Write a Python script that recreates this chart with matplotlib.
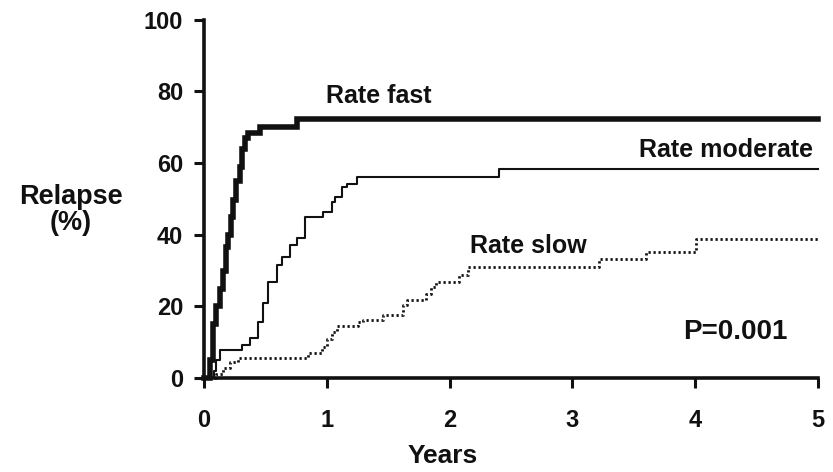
import numpy as np
import matplotlib
matplotlib.use("Agg")
from matplotlib import pyplot as plt

plt.rcParams['font.family'] = ['Liberation Sans', 'DejaVu Sans']
plt.rcParams['font.weight'] = 'bold'

# step curves (years, relapse %)
fast_t = [0, 0.05, 0.076, 0.10, 0.13, 0.157, 0.18, 0.198, 0.22, 0.239, 0.26,
          0.293, 0.31, 0.334, 0.361, 0.456, 0.755, 5.0]
fast_y = [0, 5, 15, 20, 25, 30, 36.5, 40, 45, 49.6, 55, 59, 64, 67, 68.5,
          70, 72.4, 72.4]

mod_t = [0, 0.08, 0.10, 0.13, 0.307, 0.375, 0.442, 0.483, 0.524, 0.592,
         0.633, 0.70, 0.755, 0.822, 0.972, 1.04, 1.067, 1.121, 1.162, 1.249,
         2.40, 5.0]
mod_y = [0, 2, 5, 7.8, 9.2, 11.3, 15.7, 20.9, 26.8, 31.5, 33.8, 37.2, 39.2,
         44.9, 46.3, 49.1, 50.5, 53.3, 54.2, 56.1, 58.3, 58.3]

slow_t = [0, 0.10, 0.157, 0.21, 0.277, 0.85, 0.958, 1.0, 1.04, 1.08, 1.257,
          1.297, 1.46, 1.623, 1.65, 1.81, 1.85, 1.89, 2.08, 2.15, 3.22, 3.60,
          4.01, 5.0]
slow_y = [0, 1, 2.7, 4.5, 5.7, 7.1, 8.7, 11, 12.9, 14.5, 15.7, 16.2, 17.5,
          20.3, 21.7, 23.6, 25.4, 26.8, 28.7, 31, 33.1, 35.2, 38.9, 38.9]

x_ticks = [0, 1, 2, 3, 4, 5]
y_ticks = [0, 20, 40, 60, 80, 100]

ink = '#111111'

fig = plt.figure(figsize=(8.33, 4.72), dpi=100)
ax = fig.add_axes([0.245, 0.199, 0.737, 0.759])

ax.plot(fast_t, fast_y, drawstyle='steps-post', color=ink, lw=4.0,
        solid_joinstyle='miter', clip_on=False)
ax.plot(mod_t, mod_y, drawstyle='steps-post', color=ink, lw=1.5,
        clip_on=False)
ax.plot(slow_t, slow_y, drawstyle='steps-post', color=ink, lw=2.0,
        linestyle=(0, (0.8, 1.0)), clip_on=False)

ax.set_xlim(0, 5)
ax.set_ylim(0, 100)
ax.set_xticks(x_ticks)
ax.set_yticks(y_ticks)
ax.tick_params(width=2.2, length=7, labelsize=17, colors=ink)
ax.tick_params(axis='x', pad=15)
ax.tick_params(axis='y', pad=8)
for lab in ax.get_xticklabels() + ax.get_yticklabels():
    lab.set_fontweight('bold')

for side in ['top', 'right']:
    ax.spines[side].set_visible(False)
for side in ['left', 'bottom']:
    ax.spines[side].set_linewidth(2.6)
    ax.spines[side].set_color(ink)

fig.text(443 / 833, 1 - 456 / 472, 'Years', ha='center', va='center',
         fontsize=19, fontweight='bold', color=ink)
fig.text(71 / 833, 1 - 210 / 472, 'Relapse\n(%)', ha='center', va='center',
         fontsize=19.5, fontweight='bold', color=ink, linespacing=1.0)

ax.text(0.99, 78.6, 'Rate fast', fontsize=18, fontweight='bold', color=ink,
        va='center', ha='left')
ax.text(4.96, 63.8, 'Rate moderate', fontsize=18, fontweight='bold', color=ink,
        va='center', ha='right')
ax.text(2.166, 37.0, 'Rate slow', fontsize=18, fontweight='bold', color=ink,
        va='center', ha='left')
ax.text(4.75, 12.8, 'P=0.001', fontsize=20, fontweight='bold', color=ink,
        va='center', ha='right')

fig.savefig('out.png', dpi=100)
